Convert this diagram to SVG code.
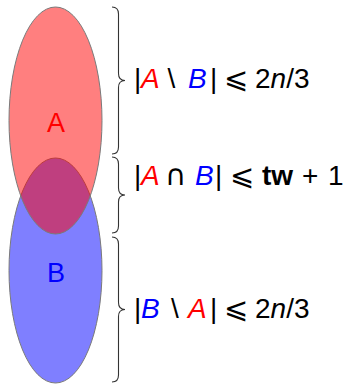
<svg xmlns="http://www.w3.org/2000/svg" width="347" height="384" viewBox="0 0 347 384">
<style>
.set{stroke:#7a7a7a;stroke-width:1}
.brace{fill:none;stroke:#333;stroke-width:1.1}
.lbl{font-family:"Liberation Sans","DejaVu Sans",sans-serif;font-size:27px;text-anchor:middle}
.math{font-family:"Liberation Sans","DejaVu Sans",sans-serif;font-size:28px;fill:#000}
.it{font-style:italic}
.r{fill:#ff0000}
.b{fill:#0000ff}
.bold{font-weight:bold}
.sym{font-family:"DejaVu Sans",sans-serif;font-size:29px}
</style>
<rect width="347" height="384" fill="#fff"/>
<g id="setB">
<ellipse class="set" cx="55.5" cy="270.5" rx="46.5" ry="112.5" fill="#0000ff" fill-opacity="0.5"/>
<text class="lbl b" x="56" y="282">B</text>
</g>
<g id="setA">
<ellipse class="set" cx="55.5" cy="120.5" rx="46.5" ry="113.5" fill="#ff0000" fill-opacity="0.5"/>
<text class="lbl r" x="56" y="132">A</text>
</g>
<g id="connectors">
<path class="brace" d="M112,7 Q118.5,7 118.5,14 L118.5,73.5 Q118.5,80.5 125,80.5 Q118.5,80.5 118.5,87.5 L118.5,147 Q118.5,154 112,154"/>
<path class="brace" d="M112,157 Q118.5,157 118.5,164 L118.5,188 Q118.5,195 125,195 Q118.5,195 118.5,202 L118.5,226 Q118.5,233 112,233"/>
<path class="brace" d="M112,237 Q118.5,237 118.5,244 L118.5,302.5 Q118.5,309.5 125,309.5 Q118.5,309.5 118.5,316.5 L118.5,375 Q118.5,382 112,382"/>
</g>
<g id="label1">
<text class="math" y="88"><tspan x="134">|</tspan><tspan class="it r" x="141">A</tspan><tspan x="167.5">\</tspan><tspan class="it b" x="188">B</tspan><tspan x="210">|</tspan><tspan class="sym" x="224">⩽</tspan><tspan x="255">2</tspan><tspan class="it">n</tspan><tspan>/3</tspan></text>
</g>
<g id="label2">
<text class="math" y="185"><tspan x="134">|</tspan><tspan class="it r" x="141">A</tspan><tspan class="sym" x="165">∩</tspan><tspan class="it b" x="195">B</tspan><tspan x="215">|</tspan><tspan class="sym" x="230">⩽</tspan><tspan class="bold" x="262">tw</tspan><tspan x="302">+</tspan><tspan x="328">1</tspan></text>
</g>
<g id="label3">
<text class="math" y="318"><tspan x="134">|</tspan><tspan class="it b" x="141">B</tspan><tspan x="171">\</tspan><tspan class="it r" x="188">A</tspan><tspan x="210">|</tspan><tspan class="sym" x="224">⩽</tspan><tspan x="255">2</tspan><tspan class="it">n</tspan><tspan>/3</tspan></text>
</g>
</svg>
